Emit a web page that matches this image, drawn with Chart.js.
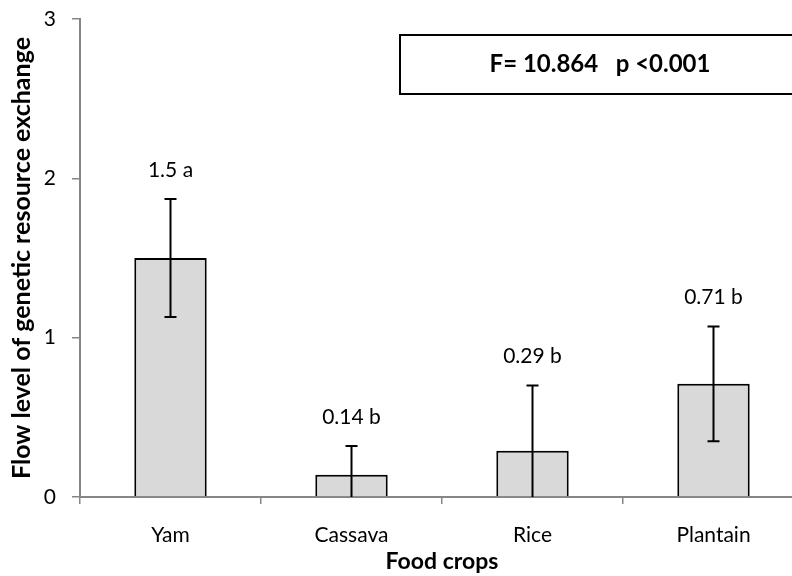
<!DOCTYPE html>
<html>
<head>
<meta charset="utf-8">
<script src="https://cdn.jsdelivr.net/npm/chart.js@4.4.1/dist/chart.umd.min.js"></script>
<style>
  html, body { margin: 0; padding: 0; background: #fff; overflow: hidden; }
  #wrap { width: 830px; height: 576px; }
</style>
</head>
<body>
<div id="wrap"><canvas id="mainChart" width="830" height="576"></canvas></div>
<script>
// datos
const crops = ['Yam', 'Cassava', 'Rice', 'Plantain'];
const flowMeans = [1.5, 0.14, 0.29, 0.71];
const flowErrors = [0.37, 0.18, 0.41, 0.36];
const groupLetters = ['a', 'b', 'b', 'b'];
const yTicks = [0, 1, 2, 3];
const statsText = 'F= 10.864   p <0.001';

const FONT = 'Lato, "Open Sans", sans-serif';
const AXIS_GRAY = '#868686';

// barras de error + etiquetas + cuadro con el estadístico
const extrasPlugin = {
    id: 'extras',
    afterDatasetsDraw(chart) {
        const ctx = chart.ctx;
        const meta = chart.getDatasetMeta(0);
        const y = chart.scales.y;
        const area = chart.chartArea;

        ctx.save();
        meta.data.forEach((bar, i) => {
            const hi = flowMeans[i] + flowErrors[i];
            const lo = Math.max(0, flowMeans[i] - flowErrors[i]);
            const yHi = y.getPixelForValue(hi);
            const yLo = y.getPixelForValue(lo);
            const x = bar.x;

            ctx.strokeStyle = '#000';
            ctx.lineWidth = 2;
            ctx.beginPath();
            ctx.moveTo(x, yHi);
            ctx.lineTo(x, yLo);
            ctx.moveTo(x - 6, yHi);
            ctx.lineTo(x + 6, yHi);
            if (flowMeans[i] - flowErrors[i] > 0) {
                ctx.moveTo(x - 6, yLo);
                ctx.lineTo(x + 6, yLo);
            }
            ctx.stroke();

            ctx.fillStyle = '#000';
            ctx.font = '21px ' + FONT;
            ctx.textAlign = 'center';
            ctx.textBaseline = 'middle';
            ctx.fillText(flowMeans[i] + ' ' + groupLetters[i], x, yHi - 29);
        });

        // cuadro del ANOVA
        const bx = area.left + 320;
        const by = area.top + 16;
        const bw = 410;
        const bh = 59;
        ctx.lineWidth = 2;
        ctx.strokeStyle = '#000';
        ctx.fillStyle = '#fff';
        ctx.fillRect(bx, by, bw, bh);
        ctx.strokeRect(bx, by, bw, bh);
        ctx.fillStyle = '#000';
        ctx.font = 'bold 24px ' + FONT;
        ctx.textAlign = 'center';
        ctx.textBaseline = 'middle';
        ctx.fillText(statsText, bx + 200, by + bh / 2);
        ctx.restore();
    }
};

function buildMainChart(ctx) {
    return new Chart(ctx, {
        type: 'bar',
        data: {
            labels: crops,
            datasets: [{
                label: 'Flow level',
                data: flowMeans,
                backgroundColor: '#d9d9d9',
                borderColor: '#000',
                borderWidth: 2,
                barPercentage: 0.4,
                categoryPercentage: 1.0
            }]
        },
        options: {
            responsive: false,
            animation: false,
            layout: { padding: { top: 19, right: 26, left: 0, bottom: 0 } },
            plugins: {
                legend: { display: false },
                tooltip: { enabled: false }
            },
            scales: {
                x: {
                    offset: true,
                    grid: {
                        offset: true,
                        drawOnChartArea: false,
                        color: AXIS_GRAY,
                        tickLength: 7,
                        lineWidth: 1.5
                    },
                    border: { color: AXIS_GRAY, width: 2 },
                    ticks: {
                        color: '#000',
                        padding: 19,
                        font: { family: FONT, size: 21 }
                    },
                    title: {
                        display: true,
                        text: 'Food crops',
                        color: '#000',
                        font: { family: FONT, size: 23, weight: 'bold' },
                        padding: { top: 0, bottom: 1 }
                    },
                    afterFit(scale) { scale.height = 79; }
                },
                y: {
                    min: 0,
                    max: 3,
                    afterBuildTicks(scale) {
                        scale.ticks = yTicks.map(v => ({ value: v }));
                    },
                    grid: {
                        drawOnChartArea: false,
                        color: AXIS_GRAY,
                        tickLength: 8,
                        lineWidth: 1.5
                    },
                    border: { color: AXIS_GRAY, width: 2 },
                    ticks: {
                        color: '#000',
                        padding: 16,
                        font: { family: FONT, size: 21 }
                    },
                    title: {
                        display: true,
                        text: 'Flow level of genetic resource exchange',
                        color: '#000',
                        font: { family: FONT, size: 25, weight: 'bold' },
                        padding: { top: 7, bottom: 0 }
                    },
                    afterFit(scale) {
                        scale.width = 80;
                        scale.paddingTop = 0;
                        scale.paddingBottom = 0;
                    }
                }
            }
        },
        plugins: [extrasPlugin]
    });
}

document.addEventListener('DOMContentLoaded', () => {
    const canvas = document.getElementById('mainChart');
    buildMainChart(canvas.getContext('2d'));
});
</script>
</body>
</html>
